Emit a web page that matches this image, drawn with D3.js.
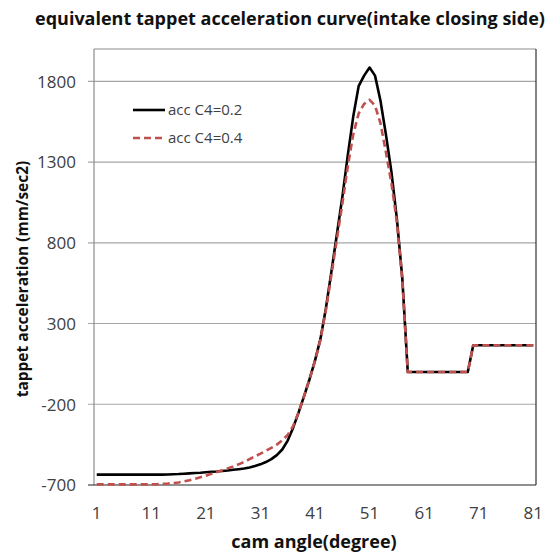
<!DOCTYPE html>
<html>
<head>
<meta charset="utf-8">
<script src="https://cdn.jsdelivr.net/npm/d3@7"></script>
<style>
  body { margin: 0; background: #fff; }
  svg { display: block; font-family: 'Open Sans', sans-serif; }
</style>
</head>
<body>
<div id="app"></div>
<script>
// cam angle categories
const angles = [1,2,3,4,5,6,7,8,9,10,11,12,13,14,15,16,17,18,19,20,
  21,22,23,24,25,26,27,28,29,30,31,32,33,34,35,36,37,38,39,40,
  41,42,43,44,45,46,47,48,49,50,51,52,53,54,55,56,57,58,59,60,
  61,62,63,64,65,66,67,68,69,70,71,72,73,74,75,76,77,78,79,80,81]

// acc C4=0.2
const accC02 = [-636,-636,-636,-636,-636,-636,-636,-636,-636,-636,
  -636,-636,-636,-635,-633,-632,-630,-628,-626,-624,
  -621,-618,-616,-613,-610,-606,-602,-598,-592,-583,
  -572,-558,-540,-515,-480,-425,-345,-250,-150,-45,
  70,205,395,620,850,1080,1340,1580,1770,1835,
  1885,1835,1680,1470,1240,950,580,0,0,0,
  0,0,0,0,0,0,0,0,0,165,
  165,165,165,165,165,165,165,165,165,165,165]

// acc C4=0.4
const accC04 = [-696,-696,-696,-696,-696,-696,-696,-696,-696,-696,
  -696,-695,-693,-691,-688,-684,-678,-671,-662,-652,
  -642,-631,-620,-609,-597,-585,-572,-558,-540,-523,
  -506,-488,-470,-450,-424,-390,-335,-250,-150,-45,
  68,200,385,600,820,1040,1270,1470,1600,1660,
  1685,1650,1540,1360,1170,930,570,0,0,0,
  0,0,0,0,0,0,0,0,0,165,
  165,165,165,165,165,165,165,165,165,165,165]

const yTicks = [-700,-200,300,800,1300,1800]
const xTicks = [1,11,21,31,41,51,61,71,81]

const width = 552
const height = 553
const pLeft = 94, pRight = 536, pTop = 49, pBottom = 485

const svg = d3.select('#app')
  .append('svg')
  .attr('width', width)
  .attr('height', height)

const x = d3.scalePoint()
  .domain(angles)
  .range([pLeft, pRight])
  .padding(0.5)

const y = d3.scaleLinear()
  .domain([-700, 2000])
  .range([pBottom, pTop])

// gridlines + left ticks
svg.append('g')
  .selectAll('line')
  .data(yTicks.filter(d => d > -700))
  .enter()
  .append('line')
  .attr('x1', pLeft - 6)
  .attr('x2', pRight)
  .attr('y1', d => y(d))
  .attr('y2', d => y(d))
  .attr('stroke', '#a6a6a6')
  .attr('stroke-width', 1.2)

// plot frame
svg.append('line').attr('x1', pLeft).attr('x2', pRight).attr('y1', pTop).attr('y2', pTop)
  .attr('stroke', '#8c8c8c').attr('stroke-width', 1.2)
svg.append('line').attr('x1', pLeft).attr('x2', pLeft).attr('y1', pTop).attr('y2', pBottom)
  .attr('stroke', '#8c8c8c').attr('stroke-width', 1.2)
svg.append('line').attr('x1', pRight).attr('x2', pRight).attr('y1', pTop).attr('y2', pBottom)
  .attr('stroke', '#333').attr('stroke-width', 1.2)
svg.append('line').attr('x1', pLeft - 6).attr('x2', pRight).attr('y1', pBottom).attr('y2', pBottom)
  .attr('stroke', '#222').attr('stroke-width', 1.2)

// y tick labels
svg.append('g')
  .selectAll('text')
  .data(yTicks)
  .enter()
  .append('text')
  .attr('x', 76)
  .attr('y', d => y(d))
  .attr('dy', '0.38em')
  .attr('text-anchor', 'end')
  .attr('font-size', 17)
  .attr('fill', '#404040')
  .text(d => d)

// x tick labels
svg.append('g')
  .selectAll('text')
  .data(xTicks)
  .enter()
  .append('text')
  .attr('x', d => x(d))
  .attr('y', 519)
  .attr('text-anchor', 'middle')
  .attr('font-size', 17)
  .attr('fill', '#404040')
  .text(d => d)

const line = d3.line()
  .x((d, i) => x(angles[i]))
  .y(d => y(d))

svg.append('path')
  .datum(accC02)
  .attr('d', line)
  .attr('fill', 'none')
  .attr('stroke', '#000')
  .attr('stroke-width', 2.6)
  .attr('stroke-linejoin', 'round')

svg.append('path')
  .datum(accC04)
  .attr('d', line)
  .attr('fill', 'none')
  .attr('stroke', '#c0504d')
  .attr('stroke-width', 2.6)
  .attr('stroke-dasharray', '7,4')

// legend
const legend = [
  {name: 'acc C4=0.2', color: '#000', dash: null, y: 110},
  {name: 'acc C4=0.4', color: '#c0504d', dash: '7,4', y: 138}
]
const lg = svg.append('g')
legend.forEach(l => {
  lg.append('line')
    .attr('x1', 133).attr('x2', 165)
    .attr('y1', l.y).attr('y2', l.y)
    .attr('stroke', l.color)
    .attr('stroke-width', 2.6)
    .attr('stroke-dasharray', l.dash)
  lg.append('text')
    .attr('x', 168)
    .attr('y', l.y)
    .attr('dy', '0.36em')
    .attr('font-size', 15)
    .attr('fill', '#404040')
    .text(l.name)
})

// titles
svg.append('text')
  .attr('x', 290)
  .attr('y', 25)
  .attr('text-anchor', 'middle')
  .attr('font-size', 18)
  .attr('font-weight', 'bold')
  .attr('fill', '#111')
  .text('equivalent tappet acceleration curve(intake closing side)')

svg.append('text')
  .attr('x', 314)
  .attr('y', 548)
  .attr('text-anchor', 'middle')
  .attr('font-size', 18)
  .attr('font-weight', 'bold')
  .attr('fill', '#111')
  .text('cam angle(degree)')

svg.append('text')
  .attr('transform', `translate(28, 279) rotate(-90)`)
  .attr('text-anchor', 'middle')
  .attr('font-size', 15.5)
  .attr('font-weight', 'bold')
  .attr('fill', '#111')
  .text('tappet acceleration (mm/sec2)')
</script>
</body>
</html>
